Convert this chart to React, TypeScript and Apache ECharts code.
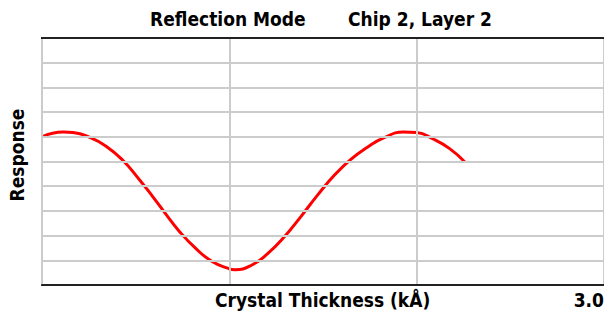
import React, { useEffect, useRef } from "react";
import * as echarts from "echarts";

const titleLeft = "Reflection Mode";
const titleRight = "Chip 2, Layer 2";
const xTitle = "Crystal Thickness (kÅ)";
const yTitle = "Response";
const xEndLabel = "3.0";

const thickness = [0.0, 0.113, 0.166, 0.254, 0.342, 0.43, 0.519, 0.589, 0.66, 0.73, 0.818, 0.906, 0.995, 1.03, 1.118, 1.206, 1.295, 1.383, 1.471, 1.559, 1.647, 1.735, 1.824, 1.93, 2.0, 2.088, 2.176, 2.256];
const response = [6.0, 6.19, 6.17, 5.98, 5.62, 5.06, 4.27, 3.6, 2.88, 2.2, 1.5, 0.96, 0.67, 0.62, 0.8, 1.28, 1.96, 2.78, 3.64, 4.43, 5.08, 5.57, 5.96, 6.19, 6.17, 5.91, 5.52, 4.99];

const FONT = "'Liberation Sans Narrow', 'DejaVu Sans Condensed', 'Liberation Sans', sans-serif";

export default function App() {
  const ref = useRef<HTMLDivElement>(null);
  useEffect(() => {
    if (!ref.current) return;
    const chart = echarts.init(ref.current, null, { renderer: "svg" });
    const data = thickness.map((x, i) => [x, response[i]]);
    const dark = { show: true, lineStyle: { color: "#222", width: 2 } };
    chart.setOption({
      animation: false,
      backgroundColor: "#fff",
      grid: { left: 42, right: -5, top: 38, bottom: 30 },
      xAxis: {
        type: "value", min: 0, max: 3, interval: 1, position: "bottom", z: 5,
        axisLine: { ...dark, onZero: false }, axisTick: { show: false }, axisLabel: { show: false },
        splitLine: { show: true, lineStyle: { color: "#cccccc", width: 2 } },
      },
      yAxis: {
        type: "value", min: 0, max: 10, interval: 1, z: 4,
        axisLine: { ...dark, onZero: false }, axisTick: { show: false }, axisLabel: { show: false },
        splitLine: { show: true, lineStyle: { color: "#cccccc", width: 2 } },
      },
      graphic: [
        { type: "text", left: 150, top: 9, style: { text: titleLeft, font: `bold 19px ${FONT}`, fill: "#000" } },
        { type: "text", left: 348, top: 9, style: { text: titleRight, font: `bold 19px ${FONT}`, fill: "#000" } },
        { type: "text", left: 215, top: 290, style: { text: xTitle, font: `bold 19px ${FONT}`, fill: "#000" } },
        { type: "text", right: 0, top: 290, style: { text: xEndLabel, font: `bold 19px ${FONT}`, fill: "#000" } },
        { type: "text", x: 17, y: 155, rotation: Math.PI / 2, style: { text: yTitle, font: `bold 19px ${FONT}`, fill: "#000", align: "center", verticalAlign: "middle" } },
        { type: "rect", z: 100, shape: { x: 41, y: 37, width: 563, height: 2 }, style: { fill: "#222" } },
      ],
      series: [
        {
          type: "line", data, smooth: true, symbol: "none",
          lineStyle: { color: "#ff0000", width: 3 },
        },
      ],
    });
    return () => chart.dispose();
  }, []);
  return <div ref={ref} style={{ width: 604, height: 315, position: "absolute", left: 0, top: 0 }} />;
}
